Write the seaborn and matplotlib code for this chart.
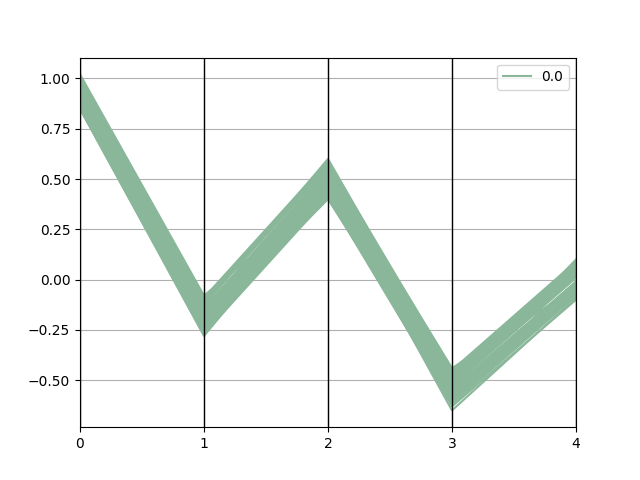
import matplotlib
matplotlib.use("Agg")
import matplotlib.pyplot as plt
import seaborn as sns
import pandas as pd

# per-line values at each coordinate (columns 0..4); class label for all lines
col0 = [1.02, 1.01, 1.00, 0.99, 0.99, 0.98, 0.97, 0.96, 0.96, 0.95, 0.94, 0.94, 0.93, 0.92, 0.92,
        0.91, 0.90, 0.90, 0.89, 0.89, 0.88, 0.88, 0.87, 0.87, 0.86, 0.86, 0.86, 0.85, 0.85, 0.85]
col1 = [-0.08, -0.09, -0.10, -0.11, -0.12, -0.12, -0.13, -0.14, -0.15, -0.15, -0.16, -0.17, -0.17, -0.18, -0.19,
        -0.19, -0.20, -0.21, -0.21, -0.22, -0.22, -0.23, -0.24, -0.24, -0.25, -0.25, -0.26, -0.27, -0.27, -0.28]
col2 = [0.44, 0.59, 0.58, 0.57, 0.57, 0.56, 0.60, 0.55, 0.54, 0.53, 0.53, 0.52, 0.51, 0.50, 0.50,
        0.49, 0.48, 0.48, 0.47, 0.46, 0.40, 0.45, 0.44, 0.44, 0.43, 0.42, 0.42, 0.41, 0.45, 0.47]
col3 = [-0.47, -0.45, -0.46, -0.44, -0.46, -0.47, -0.48, -0.48, -0.49, -0.50, -0.50, -0.51, -0.52, -0.52, -0.53,
        -0.54, -0.54, -0.55, -0.56, -0.56, -0.57, -0.58, -0.58, -0.59, -0.60, -0.60, -0.61, -0.62, -0.63, -0.65]
col4 = [0.06, 0.09, 0.08, -0.04, 0.07, 0.07, 0.06, 0.05, 0.05, 0.04, 0.03, 0.03, 0.02, 0.01, 0.01,
        0.10, -0.01, -0.01, -0.02, -0.03, -0.03, -0.04, -0.05, -0.05, -0.06, -0.07, -0.07, -0.08, -0.10, -0.09]
class_label = "0.0"
line_color = "#8ab79a"

columns = [col0, col1, col2, col3, col4]
rows = []
for i in range(len(col0)):
    for j, col in enumerate(columns):
        rows.append({"line": i, "x": j, "y": col[i], "cls": class_label})
df = pd.DataFrame(rows)

fig, ax = plt.subplots(figsize=(6.4, 4.8), dpi=100)
sns.lineplot(data=df, x="x", y="y", hue="cls", units="line", estimator=None,
             palette=[line_color], linewidth=1.5, ax=ax, legend=False)
for j in range(len(columns)):
    ax.axvline(j, color="black", linewidth=1)
ax.set_xticks(range(len(columns)))
ax.set_xticklabels([str(j) for j in range(len(columns))])
ax.set_xlim(0, len(columns) - 1)
ax.set_xlabel("")
ax.set_ylabel("")
ax.plot([], [], color=line_color, label=class_label)
ax.legend(loc="upper right")
ax.grid(True)
fig.savefig("out.png")
